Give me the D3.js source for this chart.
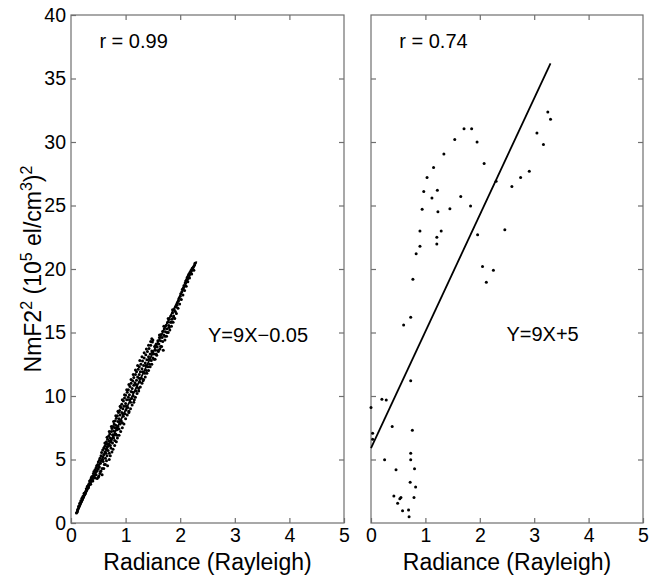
<!DOCTYPE html>
<html>
<head>
<meta charset="utf-8">
<script src="https://cdn.jsdelivr.net/npm/d3@7"></script>
<style>
  html, body { margin: 0; padding: 0; background: #fff; }
  svg { display: block; }
  text { font-family: "Liberation Sans", Arial, Helvetica, sans-serif; fill: #000; }
</style>
</head>
<body>
<svg id="chart" width="661" height="579"></svg>
<script>
// ---------- data ----------
const xTicks = [0, 1, 2, 3, 4, 5];
const yTicks = [0, 5, 10, 15, 20, 25, 30, 35, 40];
const xLabel = "Radiance (Rayleigh)";

const leftR = "r = 0.99";
const leftEq = "Y=9X\u22120.05";
const rightR = "r = 0.74";
const rightEq = "Y=9X+5";

const leftFit = [[0.10, 0.80], [2.30, 20.60]];
const rightFit = [[0.00, 5.90], [3.30, 36.20]];

const leftPoints = [
  [0.10,0.78],[0.11,0.85],[0.12,0.95],[0.12,1.05],[0.13,1.10],[0.14,1.20],[0.14,1.32],[0.15,1.30],[0.16,1.42],[0.16,1.55],
  [0.17,1.50],[0.18,1.62],[0.18,1.75],[0.19,1.70],[0.20,1.80],[0.20,1.95],[0.21,1.88],[0.22,2.00],[0.22,2.10],[0.23,2.05],
  [0.24,2.20],[0.24,2.35],[0.25,2.25],[0.26,2.40],[0.26,2.30],[0.27,2.48],[0.28,2.55],[0.28,2.70],[0.29,2.62],[0.30,2.75],
  [0.30,2.90],[0.31,2.85],[0.32,3.00],[0.32,2.78],[0.33,3.10],[0.34,3.05],[0.34,3.30],[0.35,3.15],[0.36,3.40],[0.36,3.05],
  [0.37,3.55],[0.38,3.30],[0.38,3.65],[0.39,3.45],[0.40,3.70],[0.40,3.30],[0.41,3.90],[0.42,3.60],[0.42,4.05],[0.43,3.75],
  [0.44,4.20],[0.44,3.55],[0.45,4.00],[0.46,4.35],[0.46,3.80],[0.47,4.50],[0.48,4.10],[0.48,3.50],[0.49,4.60],[0.50,4.25],
  [0.50,4.80],[0.51,3.70],[0.52,4.95],[0.52,4.40],[0.53,5.10],[0.54,4.05],[0.54,4.70],[0.55,5.30],[0.56,4.90],[0.56,5.55],
  [0.57,4.30],[0.58,5.20],[0.58,5.75],[0.59,4.85],[0.60,5.90],[0.60,5.40],[0.61,4.60],[0.62,6.05],[0.62,5.60],[0.63,5.10],
  [0.64,6.20],[0.64,5.80],[0.65,6.40],[0.66,5.30],[0.66,6.00],[0.67,6.60],[0.68,5.70],[0.68,6.25],[0.69,6.85],[0.70,5.50],
  [0.70,6.45],[0.71,7.00],[0.72,6.10],[0.72,6.70],[0.73,5.90],[0.74,7.20],[0.74,6.55],[0.75,7.45],[0.76,6.30],[0.76,6.95],
  [0.77,7.60],[0.78,6.70],[0.78,7.25],[0.79,7.80],[0.80,6.50],[0.80,7.50],[0.81,8.05],[0.82,7.00],[0.82,7.70],[0.83,8.25],
  [0.84,7.35],[0.84,6.90],[0.85,8.45],[0.86,7.60],[0.86,8.00],[0.87,8.70],[0.88,7.40],[0.88,8.20],[0.89,8.85],[0.90,7.80],
  [0.90,8.50],[0.91,9.10],[0.92,8.05],[0.93,8.70],[0.93,9.35],[0.94,7.90],[0.95,9.00],[0.96,9.60],[0.96,8.40],[0.97,9.20],
  [0.98,9.85],[0.99,8.60],[1.00,9.40],[1.00,10.05],[1.01,8.90],[1.02,9.70],[1.03,10.30],[1.04,9.10],[1.05,9.90],[1.05,10.50],
  [1.06,8.80],[1.07,10.10],[1.08,10.75],[1.09,9.50],[1.10,10.35],[1.10,11.00],[1.11,9.80],[1.12,10.60],[1.13,11.20],[1.14,10.00],
  [1.15,10.85],[1.15,11.45],[1.16,9.70],[1.17,11.05],[1.18,11.70],[1.19,10.40],[1.20,11.25],[1.20,11.90],[1.21,10.70],[1.22,11.50],
  [1.23,12.10],[1.24,10.60],[1.25,11.70],[1.25,12.30],[1.26,11.10],[1.27,11.90],[1.28,12.50],[1.29,11.40],[1.30,12.15],[1.31,12.75],
  [1.32,11.20],[1.33,12.40],[1.34,13.00],[1.35,11.80],[1.36,12.60],[1.37,13.25],[1.38,12.00],[1.39,12.85],[1.40,13.50],[1.41,12.30],
  [1.42,13.10],[1.43,13.75],[1.44,12.50],[1.45,13.30],[1.46,14.00],[1.47,12.80],[1.48,13.55],[1.49,14.25],[1.50,13.00],[1.50,14.40],
  [1.52,13.30],[1.53,13.90],[1.54,12.90],[1.55,13.60],[1.56,14.10],[1.57,13.20],[1.58,13.85],[1.59,14.35],[1.60,13.50],[1.61,14.10],
  [1.62,14.60],[1.63,13.70],[1.64,14.35],[1.65,14.85],[1.66,13.90],[1.67,14.60],[1.68,15.10],[1.69,13.60],[1.70,14.80],[1.71,15.30],
  [1.72,14.40],[1.73,15.05],[1.74,15.55],[1.75,14.70],[1.76,15.30],[1.77,15.80],[1.78,15.00],[1.79,15.55],[1.80,16.05],[1.81,15.20],
  [1.82,15.80],[1.83,16.30],[1.84,15.50],[1.85,16.05],[1.86,16.55],[1.87,15.80],[1.88,16.30],[1.89,16.80],[1.90,16.10],[1.91,16.65],
  [1.92,17.00],[1.93,16.50],[1.94,17.15],[1.95,17.35],[1.96,16.90],[1.97,17.50],[1.98,17.70],[1.99,17.25],[2.00,17.85],[2.01,18.05],
  [2.02,17.60],[2.03,18.20],[2.04,18.40],[2.05,17.95],[2.06,18.55],[2.07,18.70],[2.08,18.30],[2.09,18.90],[2.10,19.05],[2.11,18.65],
  [2.12,19.20],[2.13,19.35],[2.14,19.00],[2.15,19.50],[2.16,19.60],[2.17,19.30],[2.18,19.75],[2.20,19.90],[2.21,19.60],[2.22,20.05],
  [2.24,20.15],[2.25,19.90],[2.26,20.30],[2.27,20.45],
  [0.50,3.60],[0.53,3.90],[0.55,4.10],[0.57,3.80],[0.60,4.30],[0.63,4.60],[0.65,4.90],[0.67,4.50],[0.70,5.00],[0.72,5.30],
  [0.75,5.60],[0.77,5.80],[0.80,6.10],[0.83,6.40],[0.85,6.70],[0.88,6.90],[0.91,7.20],[0.94,7.50],[0.97,7.80],[1.00,8.20],
  [1.03,8.50],[1.06,8.70],[1.09,9.00],[1.12,9.30],[1.15,9.50],[1.18,9.90],[1.21,10.20],[1.24,10.40],[1.27,10.70],[1.30,11.00],
  [1.33,11.30],[1.36,11.50],[1.39,11.80],[1.42,12.00],[1.45,12.30],[1.48,12.50],[1.52,12.90],[1.56,13.30],[1.60,13.60],[1.64,13.90],
  [1.68,14.30],[1.72,14.70],[1.76,15.00],[1.80,15.40],[1.84,15.80],[1.88,16.20],
  [0.62,6.30],[0.66,6.75],[0.70,7.20],[0.74,7.60],[0.78,8.00],[0.82,8.45],[0.86,8.80],[0.90,9.20],[0.94,9.70],[0.98,10.10],
  [1.02,10.50],[1.06,10.90],[1.10,11.30],[1.14,11.70],[1.18,12.05],[1.22,12.40],[1.26,12.80],[1.30,13.10],[1.34,13.40],[1.38,13.70],
  [1.42,14.00],[1.46,14.30],[1.48,14.50],
  [0.58,5.00],[0.64,5.50],[0.69,6.10],[0.73,6.40],[0.79,6.90],[0.84,7.50],[0.89,8.00],[0.95,8.60],[1.01,9.20],[1.07,9.70],
  [1.13,10.30],[1.19,10.90],[1.25,11.40],[1.31,11.90],[1.37,12.40],[1.43,12.90],[1.49,13.40],[1.55,14.00],[1.62,14.80],[1.70,15.50],
  [1.78,16.10],[1.86,16.80]
];

const rightPoints = [
  [3.25,32.36],[3.30,31.80],[3.05,30.70],[3.17,29.80],[1.71,31.05],[1.85,31.05],[1.54,30.20],[1.95,30.00],[1.34,29.06],[2.08,28.30],
  [1.15,28.00],[1.03,27.20],[2.30,26.90],[2.91,27.70],[2.75,27.20],[2.59,26.50],[0.97,26.10],[1.22,26.20],[1.12,25.60],[1.65,25.70],
  [0.94,24.70],[1.23,24.50],[1.45,24.75],[1.83,24.96],[0.90,23.00],[1.29,23.00],[2.46,23.10],[1.21,22.50],[1.96,22.70],[0.90,21.80],
  [1.21,21.97],[0.83,21.20],[2.05,20.20],[2.25,19.90],[2.12,18.95],[0.77,19.20],[0.73,16.20],[0.60,15.60],[0.73,11.20],[0.20,9.74],
  [0.28,9.69],[0.00,9.10],[0.39,7.60],[0.76,7.30],[0.03,7.06],[0.03,6.60],[0.25,4.98],[0.73,5.50],[0.73,4.98],[0.46,4.20],
  [0.80,4.28],[0.72,3.20],[0.82,2.83],[0.42,2.13],[0.55,2.00],[0.53,1.90],[0.49,1.55],[0.79,2.00],[0.58,0.97],[0.69,1.02],
  [0.70,0.50]
];

// ---------- layout ----------
const svg = d3.select("#chart");
const yTop = 15, yBottom = 523;
const panels = [
  { x0: 71, x1: 344, points: leftPoints, fit: leftFit, r: leftR, eq: leftEq, eqPos: [2.51, 14.25], yLabels: true },
  { x0: 371, x1: 643, points: rightPoints, fit: rightFit, r: rightR, eq: rightEq, eqPos: [2.49, 14.3], yLabels: false }
];
const y = d3.scaleLinear().domain([0, 40]).range([yBottom, yTop]);
const axisColor = "#6f6f6f";
const tickFont = 19.5;

panels.forEach(p => {
  const x = d3.scaleLinear().domain([0, 5]).range([p.x0, p.x1]);
  const g = svg.append("g");

  g.append("rect")
    .attr("x", p.x0).attr("y", yTop)
    .attr("width", p.x1 - p.x0).attr("height", yBottom - yTop)
    .attr("fill", "none").attr("stroke", axisColor).attr("stroke-width", 1.2);

  const styleAxis = sel => {
    sel.select(".domain").remove();
    sel.selectAll(".tick line").attr("stroke", axisColor).attr("stroke-width", 1.2);
    sel.selectAll(".tick text").attr("font-size", tickFont)
      .attr("font-family", "'Liberation Sans', Arial, sans-serif").attr("fill", "#000");
  };

  g.append("g").attr("transform", `translate(0,${yBottom})`)
    .call(d3.axisBottom(x).tickValues(xTicks).tickSize(-5).tickPadding(5).tickFormat(d3.format("d")))
    .call(styleAxis);
  g.append("g").attr("transform", `translate(0,${yTop})`)
    .call(d3.axisTop(x).tickValues(xTicks.slice(1, -1)).tickSize(-5).tickFormat(""))
    .call(styleAxis);
  g.append("g").attr("transform", `translate(${p.x0},0)`)
    .call(d3.axisLeft(y).tickValues(p.yLabels ? yTicks : yTicks.slice(1, -1)).tickSize(-5).tickPadding(5)
      .tickFormat(p.yLabels ? d3.format("d") : ""))
    .call(styleAxis);
  g.append("g").attr("transform", `translate(${p.x1},0)`)
    .call(d3.axisRight(y).tickValues(yTicks.slice(1, -1)).tickSize(-5).tickFormat(""))
    .call(styleAxis);

  g.append("g").selectAll("circle").data(p.points).join("circle")
    .attr("cx", d => x(d[0])).attr("cy", d => y(d[1]))
    .attr("r", 1.5).attr("fill", "#000");

  g.append("line")
    .attr("x1", x(p.fit[0][0])).attr("y1", y(p.fit[0][1]))
    .attr("x2", x(p.fit[1][0])).attr("y2", y(p.fit[1][1]))
    .attr("stroke", "#000").attr("stroke-width", 1.8);

  g.append("text").attr("x", x(0.52)).attr("y", y(37.4))
    .attr("font-size", 20).text(p.r);
  g.append("text").attr("x", x(p.eqPos[0])).attr("y", y(p.eqPos[1]))
    .attr("font-size", 20).text(p.eq);

  g.append("text").attr("x", (p.x0 + p.x1) / 2).attr("y", 570)
    .attr("text-anchor", "middle").attr("font-size", 23).text(xLabel);
});

const yl = svg.append("text")
  .attr("transform", `translate(41,${(yTop + yBottom) / 2}) rotate(-90)`)
  .attr("text-anchor", "middle").attr("font-size", 23);
const parts = [
  ["NmF2", false], ["2", true], [" (10", false], ["5", true], [" el/cm", false], ["3", true], [")", false], ["2", true]
];
let sup = false;
parts.forEach(([t, s]) => {
  const ts = yl.append("tspan").text(t);
  if (s && !sup) { ts.attr("dy", -9).attr("font-size", 16); sup = true; }
  else if (s) { ts.attr("font-size", 16); }
  else if (!s && sup) { ts.attr("dy", 9); sup = false; }
});
</script>
</body>
</html>
